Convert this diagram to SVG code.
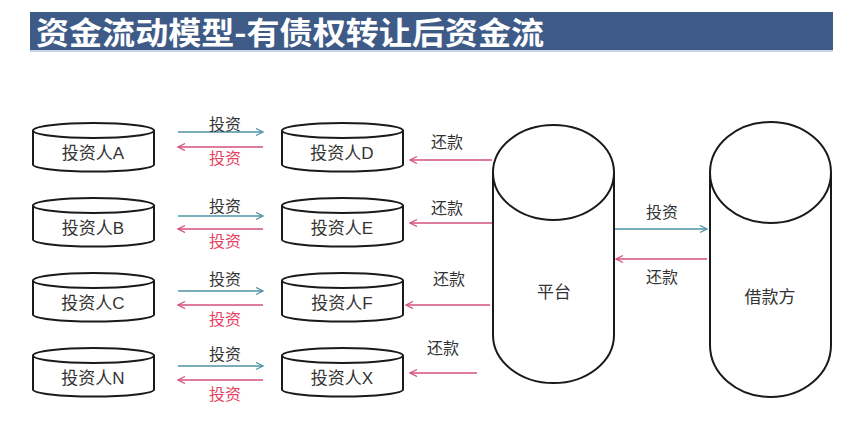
<svg xmlns="http://www.w3.org/2000/svg" width="857" height="441" viewBox="0 0 857 441">
<defs>
<marker id="mb" markerWidth="10" markerHeight="10" refX="8" refY="4" orient="auto" markerUnits="userSpaceOnUse">
<path d="M1,0.5 L8,4 L1,7.5" fill="none" stroke="#4f93a6" stroke-width="1.3"/>
</marker>
<marker id="mr" markerWidth="10" markerHeight="10" refX="8" refY="4" orient="auto" markerUnits="userSpaceOnUse">
<path d="M1,0.5 L8,4 L1,7.5" fill="none" stroke="#d6507a" stroke-width="1.3"/>
</marker>
<g id="smallcyl">
<path d="M0,7.5 L0,41.5 A60.5,7 0 0 0 121,41.5 L121,7.5" fill="#fff" stroke="#1a1a1a" stroke-width="2"/>
<ellipse cx="60.5" cy="7.5" rx="60.5" ry="7.5" fill="#fff" stroke="#1a1a1a" stroke-width="2"/>
</g>
</defs>
<style>
.t{font-family:"Liberation Sans","Noto Sans CJK SC",sans-serif;fill:#333;font-size:17px;text-anchor:middle}
.l{font-family:"Liberation Sans","Noto Sans CJK SC",sans-serif;fill:#333;font-size:16px;text-anchor:middle}
.lr{font-family:"Liberation Sans","Noto Sans CJK SC",sans-serif;fill:#e5425f;font-size:16px;text-anchor:middle}
.ab{stroke:#4f93a6;stroke-width:1.3;fill:none;marker-end:url(#mb)}
.ar{stroke:#d6507a;stroke-width:1.3;fill:none;marker-end:url(#mr)}
.cyl{fill:#fff;stroke:#1a1a1a;stroke-width:2}
</style>
<rect width="857" height="441" fill="#fff"/>
<g id="title">
<rect x="30" y="12" width="803" height="38" fill="#3e5b87"/>
<rect x="30" y="50" width="803" height="2" fill="#c9d6e8"/>
<text x="36" y="44" font-family="'Noto Sans CJK SC',sans-serif" font-weight="bold" font-size="31" fill="#fff" textLength="508" lengthAdjust="spacingAndGlyphs">资金流动模型-有债权转让后资金流</text>
</g>
<g id="connectors">
<line class="ab" x1="178" y1="132" x2="263" y2="132"/>
<line class="ar" x1="263" y1="147" x2="178" y2="147"/>
<line class="ab" x1="178" y1="216" x2="263" y2="216"/>
<line class="ar" x1="263" y1="229" x2="178" y2="229"/>
<line class="ab" x1="178" y1="291" x2="263" y2="291"/>
<line class="ar" x1="263" y1="305" x2="178" y2="305"/>
<line class="ab" x1="178" y1="366" x2="263" y2="366"/>
<line class="ar" x1="263" y1="380" x2="178" y2="380"/>
<line class="ar" x1="492" y1="160" x2="410" y2="160"/>
<line class="ar" x1="492" y1="223" x2="410" y2="223"/>
<line class="ar" x1="490" y1="305" x2="406" y2="305"/>
<line class="ar" x1="477" y1="373" x2="410" y2="373"/>
<line class="ab" x1="615" y1="229" x2="707" y2="229"/>
<line class="ar" x1="707" y1="259" x2="616" y2="259"/>
<text class="l" x="225" y="130">投资</text>
<text class="lr" x="225" y="164">投资</text>
<text class="l" x="225" y="212">投资</text>
<text class="lr" x="225" y="247">投资</text>
<text class="l" x="225" y="285">投资</text>
<text class="lr" x="225" y="325">投资</text>
<text class="l" x="225" y="360">投资</text>
<text class="lr" x="225" y="400">投资</text>
<text class="l" x="447" y="148">还款</text>
<text class="l" x="447" y="214">还款</text>
<text class="l" x="449" y="285">还款</text>
<text class="l" x="443" y="354">还款</text>
<text class="l" x="662" y="218">投资</text>
<text class="l" x="662" y="283">还款</text>
</g>
<g id="investorA"><use href="#smallcyl" x="33" y="123"/><text class="t" x="93" y="159">投资人A</text></g>
<g id="investorB"><use href="#smallcyl" x="33" y="198"/><text class="t" x="93" y="234">投资人B</text></g>
<g id="investorC"><use href="#smallcyl" x="33" y="273"/><text class="t" x="93" y="309">投资人C</text></g>
<g id="investorN"><use href="#smallcyl" x="33" y="348"/><text class="t" x="93" y="384">投资人N</text></g>
<g id="investorD"><use href="#smallcyl" x="282" y="123"/><text class="t" x="342" y="159">投资人D</text></g>
<g id="investorE"><use href="#smallcyl" x="282" y="198"/><text class="t" x="342" y="234">投资人E</text></g>
<g id="investorF"><use href="#smallcyl" x="282" y="273"/><text class="t" x="342" y="309">投资人F</text></g>
<g id="investorX"><use href="#smallcyl" x="282" y="348"/><text class="t" x="342" y="384">投资人X</text></g>
<g id="platform">
<path class="cyl" d="M493,172.5 L493,335 A60.5,48 0 0 0 614,335 L614,172.5"/>
<ellipse class="cyl" cx="553.5" cy="172.5" rx="60.5" ry="47.5"/>
<text class="t" x="554" y="298">平台</text>
</g>
<g id="borrower">
<path class="cyl" d="M710,172.5 L710,345 A60.5,52 0 0 0 831,345 L831,172.5"/>
<ellipse class="cyl" cx="770.5" cy="172.5" rx="60.5" ry="50.5"/>
<text class="t" x="770" y="303">借款方</text>
</g>
</svg>
